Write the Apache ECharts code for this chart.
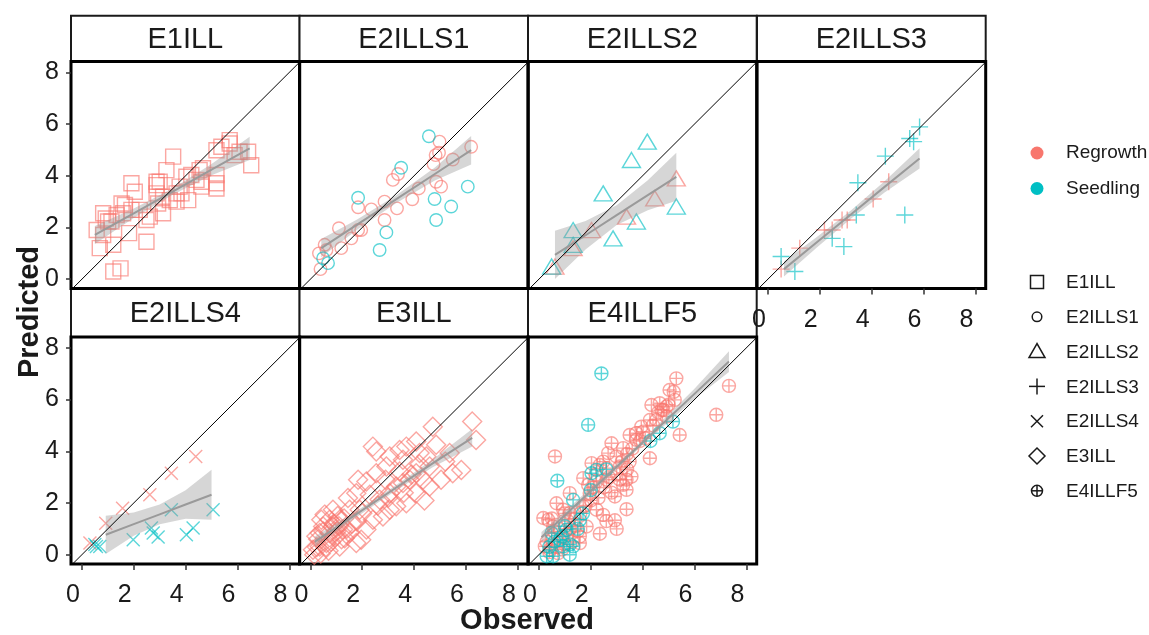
<!DOCTYPE html>
<html>
<head>
<meta charset="utf-8">
<script src="https://cdn.jsdelivr.net/npm/echarts@6/dist/echarts.min.js"></script>
<style>
  html, body { margin: 0; padding: 0; background: #fff; }
  #chart { width: 1149px; height: 635px; }
</style>
</head>
<body>
<div id="chart"></div>
<script>
// Facet names, groups and axis ticks
const panels = ['E1ILL', 'E2ILLS1', 'E2ILLS2', 'E2ILLS3', 'E2ILLS4', 'E3ILL', 'E4ILLF5'];
const groups = ['Regrowth', 'Seedling'];
const tickValues = [0, 2, 4, 6, 8];

// Observed / predicted pairs, one list per facet and group
const e1illRegrowth = [
  [0.57,1.90],[0.69,1.20],[0.82,2.55],[0.92,2.35],[1.01,2.23],[1.21,1.33],[1.21,0.30],[1.49,0.42],
  [1.53,2.93],[1.59,2.55],[1.91,3.71],[2.04,3.38],[1.82,1.78],[1.91,2.68],[2.23,2.68],[2.49,1.45],
  [2.62,2.42],[2.88,3.77],[2.88,3.32],[2.94,2.93],[3.13,2.55],[3.13,3.19],[3.26,4.22],[3.52,4.74],
  [3.65,3.32],[3.65,3.00],[3.84,3.32],[4.10,3.06],[3.77,3.58],[4.22,4.03],[4.42,3.84],[4.54,4.22],
  [4.61,3.58],[4.61,3.77],[5.19,3.71],[5.19,3.51],[5.19,4.03],[5.19,4.99],[5.38,5.12],[5.70,5.38],
  [5.70,5.25],[6.08,4.93],[6.41,4.93],[6.53,4.41],[5.89,4.80],[4.67,4.29],[4.03,3.96],[3.39,3.06],
  [3.00,3.77],[2.88,3.64],[1.14,2.23],[1.34,2.48],[2.49,2.29],[1.66,2.87],[0.82,1.71]
];
const e1illSeedling = [];

const e2ills1Regrowth = [
  [0.39,0.39],[0.33,1.00],[0.55,1.33],[1.10,1.97],[1.19,1.20],[1.58,1.58],[1.84,1.90],[1.84,2.78],
  [2.35,2.70],[2.86,3.00],[2.86,2.29],[3.18,3.84],[3.38,4.07],[3.34,2.74],[3.93,3.09],[4.18,3.51],
  [4.75,4.45],[4.85,3.77],[4.98,5.32],[4.96,4.89],[4.83,4.80],[5.04,3.58],[5.49,4.63],[6.20,5.12],
  [1.96,1.90],[0.62,1.13]
];
const e2ills1Seedling = [
  [0.49,0.81],[0.68,0.62],[1.84,3.15],[2.67,1.13],[2.93,1.81],[3.50,4.31],[4.57,5.53],[4.79,3.10],
  [4.85,2.29],[5.43,2.81],[6.07,3.58]
];

const e2ills2Regrowth = [
  [0.62,0.49],[1.32,1.20],[2.03,1.90],[3.38,2.42],[4.47,3.13],[5.30,3.90]
];
const e2ills2Seedling = [
  [0.49,0.49],[1.32,1.33],[1.32,1.90],[2.48,3.32],[2.86,1.58],[3.57,4.61],[4.18,5.32],[3.76,2.23],
  [5.30,2.81]
];

const e2ills3Regrowth = [
  [0.51,0.39],[1.23,1.20],[2.18,1.90],[2.48,1.90],[2.86,2.29],[3.06,2.29],[4.06,3.10],[4.66,3.77]
];
const e2ills3Seedling = [
  [0.51,0.88],[1.04,0.30],[2.48,1.58],[2.93,1.26],[3.41,2.48],[3.47,3.73],[4.53,4.76],[5.28,2.48],
  [5.47,5.44],[5.85,5.89],[5.62,5.32]
];

const e2ills4Regrowth = [
  [0.31,0.45],[0.92,1.22],[1.57,1.80],[2.62,2.32],[3.45,3.15],[4.39,3.80]
];
const e2ills4Seedling = [
  [0.50,0.39],[0.69,0.32],[0.56,0.32],[1.98,0.58],[2.68,1.03],[2.75,0.84],[2.94,0.68],[3.45,1.74],
  [4.03,0.77],[4.29,1.03],[5.06,1.74]
];

const e3illRegrowth = [
  [6.24,5.15],[6.39,4.44],[5.82,3.28],[5.49,3.15],[4.72,4.95],[4.08,4.38],[4.85,4.25],[2.41,4.18],
  [2.54,3.99],[3.06,3.80],[3.44,4.05],[3.57,3.67],[4.47,3.80],[4.60,3.41],[4.34,2.90],[4.60,2.64],
  [4.08,2.38],[3.70,1.99],[3.31,1.87],[3.06,1.74],[2.80,1.48],[2.16,2.83],[1.84,2.90],[1.77,2.38],
  [1.45,2.19],[1.51,1.74],[0.87,1.74],[0.49,1.09],[0.23,0.71],[0.10,0.19],[0.36,0.32],[0.62,0.45],
  [0.74,0.84],[1.00,0.71],[1.13,0.32],[1.26,0.97],[1.51,0.84],[1.77,0.45],[1.96,0.58],[2.16,0.97],
  [2.41,1.35],[3.06,2.38],[3.31,2.64],[3.57,2.77],[3.83,2.90],[4.08,3.15],[3.44,3.22],[2.93,3.41],
  [2.54,3.15],[2.29,2.32],[2.67,2.13],[1.90,1.74],[1.13,1.35],[0.74,1.35],[0.36,0.84],[0.87,1.09],
  [1.32,0.64],[0.42,1.35],[0.15,0.00],[0.40,0.05],[5.37,3.93],[5.04,2.90],[4.21,3.93],[3.70,4.18],
  [0.30,0.60],[0.50,0.90],[0.60,0.30],[0.80,0.50],[0.90,1.20],[1.00,0.90],[1.10,1.10],[1.20,0.60],
  [1.30,1.40],[1.40,1.00],[1.60,1.20],[0.70,0.15],[0.25,0.30],[1.05,1.50],[0.55,1.55],[1.80,1.30],
  [2.00,1.60],[2.60,1.90],[3.00,2.20],[3.60,2.40],[4.20,3.50],[3.90,3.10],[2.90,2.90],[4.40,2.10],
  [5.20,3.60]
];
const e3illSeedling = [];

const e4illf5Regrowth = [
  [0.62,3.80],[0.17,1.42],[0.68,1.99],[0.94,1.74],[1.19,1.61],[0.36,1.35],[1.71,2.96],[2.35,3.47],
  [2.48,3.60],[2.80,4.31],[2.67,3.93],[2.99,3.80],[3.25,4.12],[3.50,4.63],[3.76,4.70],[4.02,4.76],
  [4.28,5.21],[4.34,5.79],[4.66,5.86],[4.92,5.73],[5.04,6.37],[5.30,6.82],[5.24,5.99],[5.43,4.63],
  [4.28,3.73],[4.92,5.34],[6.84,5.41],[7.33,6.53],[3.12,2.90],[3.38,2.51],[2.93,2.25],[3.38,1.76],
  [2.93,1.33],[2.35,0.81],[2.48,1.54],[2.22,1.74],[1.58,0.71],[1.58,0.45],[1.39,1.09],[1.96,2.38],
  [1.71,1.87],[1.19,2.38],[0.55,1.09],[0.23,0.32],[0.42,0.19],[0.74,0.06],[0.94,0.71],[1.13,1.29],
  [1.84,1.09],[2.22,2.83],[2.61,2.90],[3.12,3.41],[3.38,2.90],[3.57,3.02],[3.25,2.70],[3.76,4.44],
  [4.53,5.21],[4.73,5.60],[2.03,3.54],[2.61,3.35],[3.95,4.95],
  [0.30,0.50],[0.50,0.60],[0.60,0.90],[0.80,1.00],[1.00,0.40],[1.10,0.80],[1.20,1.00],[1.40,1.40],
  [1.50,0.90],[1.60,1.60],[1.80,1.90],[2.00,2.10],[2.10,2.60],[2.30,2.20],[2.50,2.60],[2.70,3.00],
  [2.80,2.40],[3.00,3.10],[3.20,3.60],[3.40,3.90],[3.60,4.10],[3.90,4.40],[4.10,4.50],[4.40,5.00],
  [4.60,5.50],[4.80,5.60],[5.00,5.80],[5.20,6.30],[0.40,0.10],[0.70,0.30],[0.90,0.20],[1.30,0.50],
  [2.60,1.30],[3.00,1.00],[3.40,3.30],[3.50,3.60],[2.20,3.10],[1.90,2.70],[1.00,1.60],[0.50,1.40]
];
const e4illf5Seedling = [
  [2.41,7.01],[1.90,5.02],[0.71,2.86],[1.32,2.12],[2.03,3.15],[2.22,3.28],[0.30,-0.06],[0.55,-0.06],
  [1.19,0.00],[0.81,0.58],[1.07,0.97],[1.58,1.35],[0.49,0.84],[4.66,4.70],[5.17,5.15],[1.32,0.32],
  [0.94,0.32],[0.40,0.30],[0.60,0.50],[0.90,0.70],[1.00,1.10],[1.50,1.00],[1.20,0.40],[2.00,2.50],
  [1.70,1.60],[2.60,3.30],[4.30,4.40]
];

// Linear fit with confidence band per facet: [observed, lower, fit, upper]
const e1illSmooth   = [[0.50,1.36,1.71,2.06],[2.00,2.37,2.55,2.73],[3.50,3.27,3.39,3.51],[5.00,4.02,4.24,4.46],[6.47,4.61,5.06,5.51]];
const e2ills1Smooth = [[0.42,0.85,1.20,1.55],[1.80,1.91,2.11,2.31],[3.30,2.94,3.09,3.24],[4.80,3.82,4.07,4.32],[6.20,4.44,4.99,5.54]];
const e2ills2Smooth = [[0.62,0.01,0.94,1.87],[1.80,1.15,1.70,2.25],[3.00,2.10,2.48,2.86],[4.20,2.67,3.25,3.83],[5.30,3.03,3.96,4.89]];
const e2ills3Smooth = [[0.62,0.10,0.39,0.68],[1.90,1.24,1.44,1.64],[3.20,2.34,2.50,2.66],[4.50,3.35,3.57,3.79],[5.85,4.28,4.67,5.06]];
const e2ills4Smooth = [[0.92,0.03,0.77,1.51],[2.00,0.73,1.18,1.63],[3.00,1.18,1.56,1.94],[4.00,1.39,1.94,2.49],[5.00,1.35,2.32,3.29]];
const e3illSmooth   = [[0.17,0.30,0.50,0.70],[1.70,1.40,1.52,1.64],[3.20,2.42,2.52,2.62],[4.70,3.37,3.52,3.67],[6.24,4.18,4.52,4.86]];
const e4illf5Smooth = [[0.10,0.48,0.68,0.88],[2.00,2.34,2.46,2.58],[4.00,4.24,4.34,4.44],[6.00,6.02,6.22,6.42],[7.33,7.07,7.47,7.87]];

const facetPoints = [
  [e1illRegrowth, e1illSeedling], [e2ills1Regrowth, e2ills1Seedling], [e2ills2Regrowth, e2ills2Seedling],
  [e2ills3Regrowth, e2ills3Seedling], [e2ills4Regrowth, e2ills4Seedling], [e3illRegrowth, e3illSeedling],
  [e4illf5Regrowth, e4illf5Seedling]
];
const facetSmooth = [e1illSmooth, e2ills1Smooth, e2ills2Smooth, e2ills3Smooth, e2ills4Smooth, e3illSmooth, e4illf5Smooth];

// Styling and layout
const FONT = "'Liberation Sans', Arial, sans-serif";
const TEXT = '#1a1a1a';
const groupFill = ['#F8766D', '#00BFC4'];
const groupStroke = ['rgba(248,118,109,0.8)', 'rgba(0,191,196,0.8)'];
const shapeSymbols = [
  'rect',
  'circle',
  'triangle',
  'path://M5,0L5,10M0,5L10,5',
  'path://M0,0L10,10M10,0L0,10',
  'diamond',
  'path://M0,5A5,5 0 1 1 10,5A5,5 0 1 1 0,5ZM0,5L10,5M5,0L5,10'
];
const shapeSizes = [15, 12.5, [18, 15], 17, 13, 19, 13];

const X_MIN = -0.42, X_MAX = 8.40;
const Y_MIN = -0.36, Y_MAX = 8.42;
const colLeft = [71, 299.5, 528, 757];
const panelW = 228.7;
const rowTop = [61.5, 337];
const panelH = 227;
const stripTop = [15.7, 288.5];
const stripH = [45.8, 48.5];

function facetPos(i) {
  return i < 4 ? { row: 0, col: i } : { row: 1, col: i - 4 };
}

const grids = [], xAxes = [], yAxes = [], series = [], graphics = [];

panels.forEach(function (name, i) {
  const p = facetPos(i);
  const left = colLeft[p.col], top = rowTop[p.row];
  const showX = p.row === 1 || p.col === 3;
  const showY = p.col === 0;

  grids.push({
    left: left, top: top, width: panelW, height: panelH,
    show: true, borderColor: '#000', borderWidth: 3, backgroundColor: 'transparent'
  });

  xAxes.push({
    type: 'value', gridIndex: i, min: X_MIN, max: X_MAX, position: 'bottom',
    axisLine: { show: false, onZero: false }, splitLine: { show: false },
    axisTick: { show: showX, customValues: tickValues, length: 6, lineStyle: { color: '#333', width: 1.5 } },
    axisLabel: {
      show: showX, customValues: tickValues, fontSize: 25, color: TEXT, fontFamily: FONT,
      align: 'right', padding: [0, 2, 0, 0], margin: 19
    }
  });
  yAxes.push({
    type: 'value', gridIndex: i, min: Y_MIN, max: Y_MAX, position: 'left',
    axisLine: { show: false, onZero: false }, splitLine: { show: false },
    axisTick: { show: showY, customValues: tickValues, length: 5, lineStyle: { color: '#333', width: 1.5 } },
    axisLabel: { show: showY, customValues: tickValues, fontSize: 25, color: TEXT, fontFamily: FONT, margin: 12 }
  });

  // strip with facet title
  graphics.push({
    type: 'rect', z: -1,
    shape: { x: left, y: stripTop[p.row], width: panelW, height: stripH[p.row] },
    style: { fill: '#fff', stroke: '#1a1a1a', lineWidth: 2 }
  });
  graphics.push({
    type: 'text', z: 1,
    x: left + panelW / 2, y: stripTop[p.row] + stripH[p.row] / 2 + 1,
    style: { text: name, fontSize: 29, fontFamily: FONT, fill: TEXT, align: 'center', verticalAlign: 'middle' }
  });

  // points
  facetPoints[i].forEach(function (pts, g) {
    if (!pts.length) return;
    series.push({
      type: 'scatter', name: name + ' ' + groups[g], xAxisIndex: i, yAxisIndex: i, z: 2,
      data: pts, symbol: shapeSymbols[i], symbolSize: shapeSizes[i], clip: true,
      itemStyle: { color: 'rgba(0,0,0,0)', borderColor: groupStroke[g], borderWidth: 1.4 },
      emphasis: { disabled: true }, silent: true
    });
  });

  // confidence band
  const sm = facetSmooth[i];
  series.push({
    type: 'custom', xAxisIndex: i, yAxisIndex: i, z: 3, clip: true, silent: true,
    data: [[sm[0][0], sm[0][2]]],
    renderItem: function (params, api) {
      const pts = [];
      sm.forEach(function (r) { pts.push(api.coord([r[0], r[1]])); });
      for (let k = sm.length - 1; k >= 0; k--) pts.push(api.coord([sm[k][0], sm[k][3]]));
      return { type: 'polygon', shape: { points: pts }, style: { fill: 'rgba(153,153,153,0.4)' } };
    }
  });
  // fitted line
  series.push({
    type: 'line', xAxisIndex: i, yAxisIndex: i, z: 4, silent: true,
    data: sm.map(function (r) { return [r[0], r[2]]; }),
    symbol: 'none', lineStyle: { color: '#9a9a9a', width: 2 }
  });
  // 1:1 reference line
  series.push({
    type: 'line', xAxisIndex: i, yAxisIndex: i, z: 5, silent: true, clip: true,
    data: [[-1, -1], [10, 10]],
    symbol: 'none', lineStyle: { color: '#000', width: 1 }
  });
});

// axis titles
graphics.push({
  type: 'text', x: 30, y: 312, rotation: Math.PI / 2,
  style: { text: 'Predicted', fontSize: 29, fontWeight: 'bold', fontFamily: FONT, fill: TEXT, align: 'center', verticalAlign: 'middle' }
});
graphics.push({
  type: 'text', x: 527, y: 621,
  style: { text: 'Observed', fontSize: 29, fontWeight: 'bold', fontFamily: FONT, fill: TEXT, align: 'center', verticalAlign: 'middle' }
});

// colour legend
groups.forEach(function (g, k) {
  const y = 153 + k * 35.5;
  graphics.push({ type: 'circle', shape: { cx: 1037, cy: y, r: 6.5 }, style: { fill: groupFill[k] } });
  graphics.push({
    type: 'text', x: 1066, y: y,
    style: { text: g, fontSize: 19, fontFamily: FONT, fill: TEXT, align: 'left', verticalAlign: 'middle' }
  });
});

// shape legend keys built from basic elements
function keyLine(x1, y1, x2, y2) {
  return { type: 'line', shape: { x1: x1, y1: y1, x2: x2, y2: y2 }, style: { stroke: '#1a1a1a', lineWidth: 1.5 } };
}
const keyStroke = { fill: 'none', stroke: '#1a1a1a', lineWidth: 1.5 };
panels.forEach(function (name, k) {
  const cy = 282 + k * 34.8, cx = 1037;
  const els = [];
  switch (k) {
    case 0: els.push({ type: 'rect', shape: { x: cx - 6.5, y: cy - 6.5, width: 13, height: 13 }, style: keyStroke }); break;
    case 1: els.push({ type: 'circle', shape: { cx: cx, cy: cy, r: 4.8 }, style: keyStroke }); break;
    case 2: els.push({ type: 'polygon', shape: { points: [[cx, cy - 8], [cx - 8, cy + 6], [cx + 8, cy + 6]] }, style: keyStroke }); break;
    case 3: els.push(keyLine(cx - 8, cy, cx + 8, cy), keyLine(cx, cy - 8, cx, cy + 8)); break;
    case 4: els.push(keyLine(cx - 6, cy - 6, cx + 6, cy + 6), keyLine(cx + 6, cy - 6, cx - 6, cy + 6)); break;
    case 5: els.push({ type: 'polygon', shape: { points: [[cx, cy - 8], [cx + 8, cy], [cx, cy + 8], [cx - 8, cy]] }, style: keyStroke }); break;
    default:
      els.push({ type: 'circle', shape: { cx: cx, cy: cy, r: 5.5 }, style: keyStroke },
        keyLine(cx - 5.5, cy, cx + 5.5, cy), keyLine(cx, cy - 5.5, cx, cy + 5.5));
  }
  els.forEach(function (e) { graphics.push(e); });
  graphics.push({
    type: 'text', x: 1066, y: cy + 1,
    style: { text: name, fontSize: 19, fontFamily: FONT, fill: TEXT, align: 'left', verticalAlign: 'middle' }
  });
});

const chart = echarts.init(document.getElementById('chart'), null, { renderer: 'canvas' });
chart.setOption({
  animation: false,
  backgroundColor: '#fff',
  grid: grids,
  xAxis: xAxes,
  yAxis: yAxes,
  series: series,
  graphic: graphics
});
</script>
</body>
</html>
